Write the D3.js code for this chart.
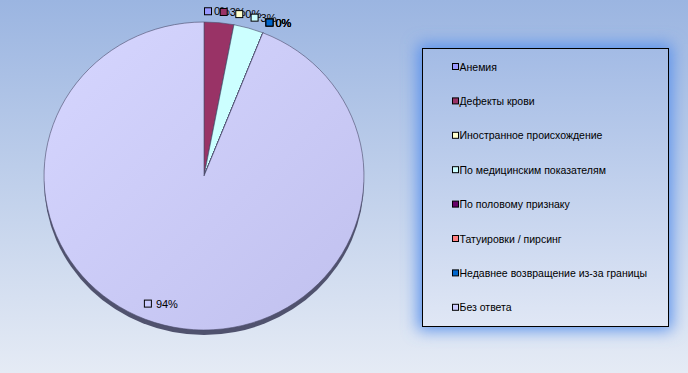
<!DOCTYPE html>
<html>
<head>
<meta charset="utf-8">
<script src="https://cdn.jsdelivr.net/npm/d3@7"></script>
<style>
  html, body { margin: 0; padding: 0; background: #fff; }
  svg { display: block; font-family: "Liberation Sans", Arial, sans-serif; }
</style>
</head>
<body>
<svg id="chart" width="688" height="373"></svg>
<script>
// chart data
const categories = [
  'Анемия',
  'Дефекты крови',
  'Иностранное происхождение',
  'По медицинским показателям',
  'По половому признаку',
  'Татуировки / пирсинг',
  'Недавнее возвращение из-за границы',
  'Без ответа'
]
const values = [0, 3, 0, 3, 0, 0, 0, 94]
const colors = ['#9999ff', '#993366', '#ffffcc', '#ccffff', '#660066', '#ff8080', '#0066cc', '#ccccff']

const width = 688
const height = 373
const cx = 204
const cy = 176
const rx = 160
const ry = 154
const depth = 5

const svg = d3.select('#chart')
const defs = svg.append('defs')

// Background gradient
const bg = defs.append('linearGradient').attr('id', 'bgGrad')
  .attr('x1', 0).attr('y1', 0).attr('x2', 0).attr('y2', 1)
bg.append('stop').attr('offset', '0%').attr('stop-color', '#9bb5e1')
bg.append('stop').attr('offset', '100%').attr('stop-color', '#e5ebf5')

const lg = defs.append('linearGradient').attr('id', 'legGrad')
  .attr('x1', 0).attr('y1', 0).attr('x2', 0).attr('y2', 1)
lg.append('stop').attr('offset', '0%').attr('stop-color', '#a3bbe5')
lg.append('stop').attr('offset', '100%').attr('stop-color', '#e0e7f5')

const big = defs.append('linearGradient').attr('id', 'bigGrad')
  .attr('x1', 0).attr('y1', 0).attr('x2', 1).attr('y2', 1)
big.append('stop').attr('offset', '0%').attr('stop-color', '#d6d6ff')
big.append('stop').attr('offset', '100%').attr('stop-color', '#c0c0ee')

const glow = defs.append('filter').attr('id', 'glow')
  .attr('x', '-20%').attr('y', '-20%').attr('width', '140%').attr('height', '140%')
glow.append('feGaussianBlur').attr('stdDeviation', 8)

svg.append('rect')
  .attr('width', width)
  .attr('height', height)
  .attr('fill', 'url(#bgGrad)')

// Pie
const pie = d3.pie().sort(null).value((d) => d)
const arcs = pie(values)
const arc = d3.arc().innerRadius(0).outerRadius(rx)

const pieG = svg.append('g')
  .attr('transform', `translate(${cx},${cy}) scale(1,${ry / rx})`)

// Side of the 3d pie
pieG.append('ellipse')
  .attr('cx', 0)
  .attr('cy', depth * rx / ry)
  .attr('rx', rx)
  .attr('ry', rx)
  .attr('fill', '#50526e')

pieG.selectAll('path.slice')
  .data(arcs)
  .enter()
  .append('path')
  .attr('class', 'slice')
  .attr('d', arc)
  .attr('fill', (d, i) => (i === values.length - 1 ? 'url(#bigGrad)' : colors[i]))
  .attr('stroke', '#4a4a6a')
  .attr('stroke-width', 0.6)
  .attr('vector-effect', 'non-scaling-stroke')

// Data labels
const pct = (v) => Math.round(v) + '%'
const labelG = svg.append('g')

arcs.forEach(function (d, i) {
  const mid = (d.startAngle + d.endAngle) / 2
  const inside = d.value > 50
  const r = inside ? rx * 0.87 : rx + 7
  const px = cx + r * Math.sin(mid)
  const py = cy - r * Math.cos(mid) * (ry / rx)

  const g = labelG.append('g')
  g.append('rect')
    .attr('x', 0.5)
    .attr('y', -3.5)
    .attr('width', 7)
    .attr('height', 7)
    .attr('fill', colors[i])
    .attr('stroke', '#000')
    .attr('stroke-width', 1)
  const t = g.append('text')
    .attr('x', inside ? 12 : 10)
    .attr('y', 4)
    .attr('font-size', 11)
    .attr('fill', '#000')
    .text(pct(d.value))
  const w = t.node().getComputedTextLength() + (inside ? 12 : 10)
  const lx = inside ? px - w : px
  g.attr('transform', `translate(${lx},${py - 4})`)
})

// Legend
const legX = 422
const legY = 48
const legW = 246
const legH = 278

svg.append('rect')
  .attr('x', legX - 4)
  .attr('y', legY - 4)
  .attr('width', legW + 8)
  .attr('height', legH + 8)
  .attr('fill', '#5a92ec')
  .attr('filter', 'url(#glow)')

svg.append('rect')
  .attr('x', legX + 0.5)
  .attr('y', legY + 0.5)
  .attr('width', legW)
  .attr('height', legH)
  .attr('fill', 'url(#legGrad)')
  .attr('stroke', '#000')
  .attr('stroke-width', 1)

const legItem = svg.append('g').selectAll('g')
  .data(categories)
  .enter()
  .append('g')
  .attr('transform', (d, i) => `translate(${legX + 30},${legY + 19 + i * 34.4})`)

legItem.append('rect')
  .attr('x', 0.5)
  .attr('y', -3.5)
  .attr('width', 6)
  .attr('height', 6)
  .attr('fill', (d, i) => colors[i])
  .attr('stroke', '#000')
  .attr('stroke-width', 1)

legItem.append('text')
  .attr('x', 7.5)
  .attr('y', 3.5)
  .attr('font-size', 10.5)
  .attr('fill', '#000')
  .text((d) => d)
</script>
</body>
</html>
